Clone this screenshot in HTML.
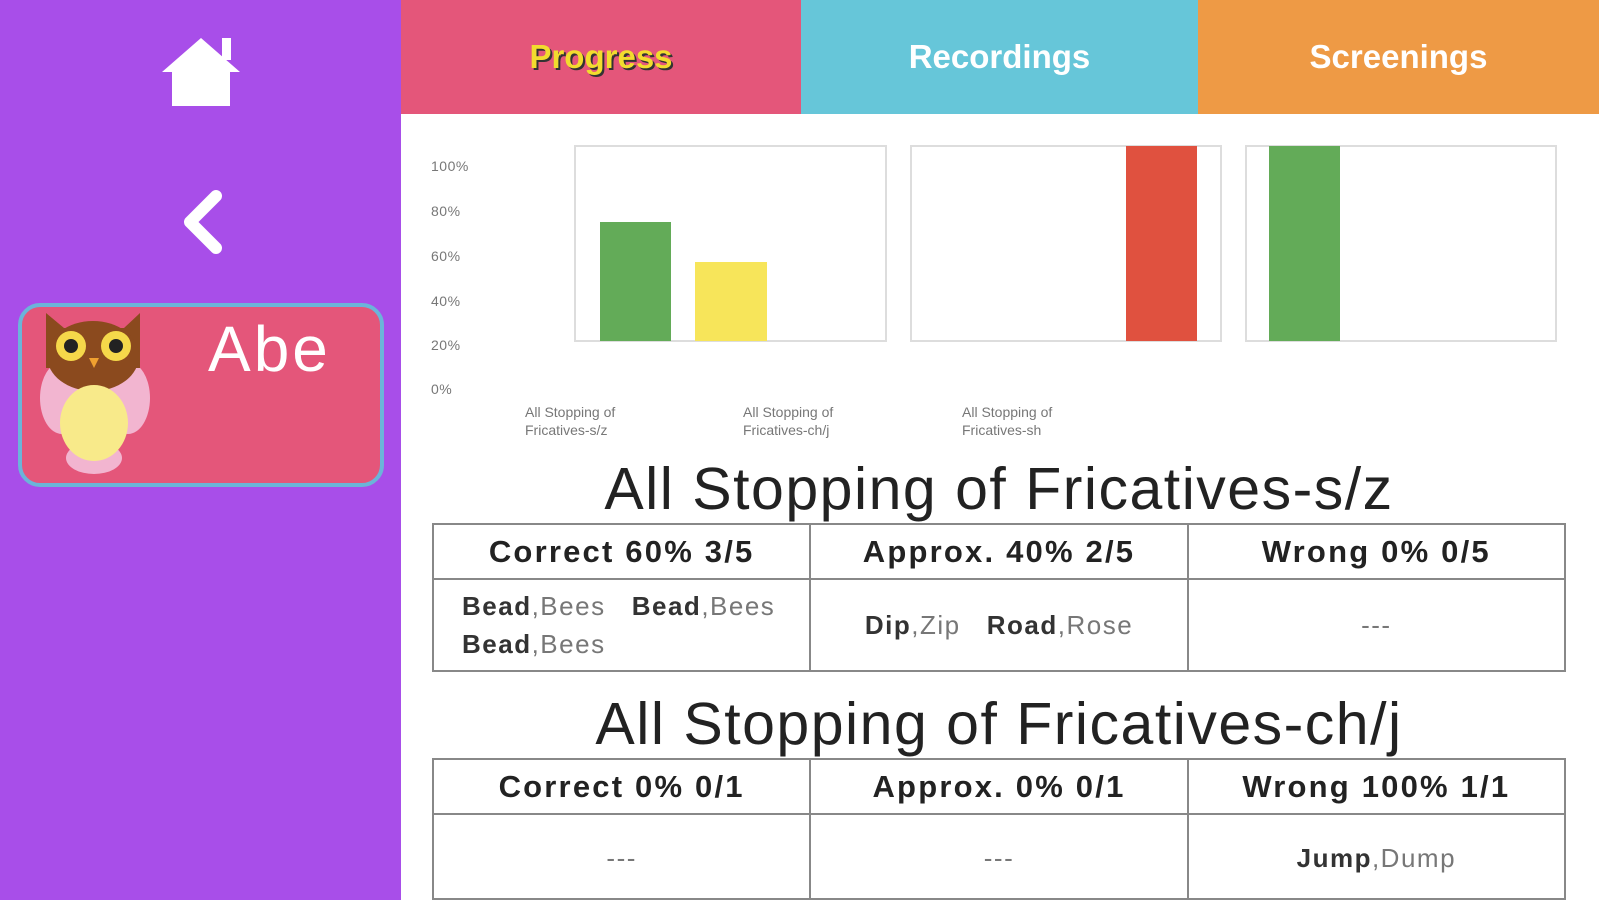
<!DOCTYPE html>
<html style="overflow:hidden"><head><meta charset="utf-8"><style>
*{margin:0;padding:0;box-sizing:border-box}
body{width:1599px;height:900px;overflow:hidden;background:#fff;font-family:"Liberation Sans",sans-serif;position:relative}
.a{position:absolute}
.side{left:0;top:0;width:401px;height:900px;background:#a84ee9}
.tab{top:0;height:114px;color:#fff;font-weight:bold;font-size:33px;display:flex;align-items:center;justify-content:center}
.box{border:2px solid #ddd;background:#fff}
.yl{font-size:14px;color:#777;left:431px;letter-spacing:0.5px}
.xl{font-size:14px;color:#777;line-height:18px}
.title{left:432px;width:1134px;text-align:center;font-size:59px;letter-spacing:1.5px;color:#222}
table{position:absolute;left:432px;width:1134px;border-collapse:collapse;table-layout:fixed}
td{border:2px solid #888;text-align:center;color:#777;font-size:26px;letter-spacing:1.5px}
th{border:2px solid #888;font-size:31px;letter-spacing:2.2px;color:#222;height:55px}
b{color:#333}
</style></head><body>
<div class="a side"></div>
<svg class="a" style="left:158px;top:34px" width="86" height="74" viewBox="0 0 86 74">
<polygon points="43,4 4,38 14,38 14,72 72,72 72,38 82,38 43,4" fill="#fff"/>
<rect x="64" y="4" width="9" height="22" fill="#fff"/></svg>
<svg class="a" style="left:178px;top:188px" width="50" height="70"><polyline points="38,8 12,34 38,60" fill="none" stroke="#fff" stroke-width="12" stroke-linecap="round" stroke-linejoin="round"/></svg>
<div class="a" style="left:18px;top:303px;width:366px;height:184px;background:#e4567a;border:4px solid #6bb4d9;border-radius:22px"></div>
<svg class="a" style="left:34px;top:308px" width="120" height="172">
<ellipse cx="28" cy="90" rx="22" ry="36" fill="#f2b5d0"/><ellipse cx="94" cy="90" rx="22" ry="36" fill="#f2b5d0"/>
<ellipse cx="60" cy="150" rx="28" ry="16" fill="#f2b5d0"/>
<polygon points="12,5 30,20 90,20 106,5 106,60 12,60" fill="#8b4a1e"/>
<ellipse cx="59" cy="48" rx="46" ry="35" fill="#8b4a1e"/>
<ellipse cx="60" cy="115" rx="34" ry="38" fill="#f8ea8a"/>
<circle cx="37" cy="38" r="15" fill="#f5d84a"/><circle cx="82" cy="38" r="15" fill="#f5d84a"/>
<circle cx="37" cy="38" r="7" fill="#222"/><circle cx="82" cy="38" r="7" fill="#222"/>
<polygon points="55,50 65,50 60,60" fill="#f0a030"/></svg>
<div class="a" style="left:208px;top:312px;font-size:64px;letter-spacing:3px;color:#fff">Abe</div>
<div class="a tab" style="left:401px;width:400px;background:#e4567a;color:#f2dc2e;text-shadow:2px 2px 0 #333">Progress</div>
<div class="a tab" style="left:801px;width:397px;background:#66c6d9">Recordings</div>
<div class="a tab" style="left:1198px;width:401px;background:#ee9a45">Screenings</div>
<div class="a box" style="left:574px;top:145px;width:313px;height:197px"></div>
<div class="a box" style="left:910px;top:145px;width:312px;height:197px"></div>
<div class="a box" style="left:1245px;top:145px;width:312px;height:197px"></div>
<div class="a" style="left:600px;top:222px;width:71px;height:119px;background:#63ab58"></div>
<div class="a" style="left:695px;top:262px;width:72px;height:79px;background:#f7e55a"></div>
<div class="a" style="left:1126px;top:146px;width:71px;height:195px;background:#e0513f"></div>
<div class="a" style="left:1269px;top:146px;width:71px;height:195px;background:#63ab58"></div>
<div class="a yl" style="top:158px">100%</div>
<div class="a yl" style="top:203px">80%</div>
<div class="a yl" style="top:248px">60%</div>
<div class="a yl" style="top:293px">40%</div>
<div class="a yl" style="top:337px">20%</div>
<div class="a yl" style="top:381px">0%</div>
<div class="a xl" style="left:525px;top:403px">All Stopping of<br>Fricatives-s/z</div>
<div class="a xl" style="left:743px;top:403px">All Stopping of<br>Fricatives-ch/j</div>
<div class="a xl" style="left:962px;top:403px">All Stopping of<br>Fricatives-sh</div>
<div class="a title" style="top:455px">All Stopping of Fricatives-s/z</div>
<table style="top:523px"><tr><th>Correct 60% 3/5</th><th>Approx. 40% 2/5</th><th>Wrong 0% 0/5</th></tr>
<tr style="height:92px"><td style="text-align:left;padding-left:28px;line-height:38px"><b>Bead</b>,Bees&nbsp;&nbsp; <b>Bead</b>,Bees<br><b>Bead</b>,Bees</td><td><b>Dip</b>,Zip&nbsp;&nbsp; <b>Road</b>,Rose</td><td>---</td></tr></table>
<div class="a title" style="top:690px">All Stopping of Fricatives-ch/j</div>
<table style="top:758px"><tr><th>Correct 0% 0/1</th><th>Approx. 0% 0/1</th><th>Wrong 100% 1/1</th></tr>
<tr style="height:85px"><td style="vertical-align:top;padding-top:28px">---</td><td style="vertical-align:top;padding-top:28px">---</td><td style="vertical-align:top;padding-top:28px"><b>Jump</b>,Dump</td></tr></table>
</body></html>
